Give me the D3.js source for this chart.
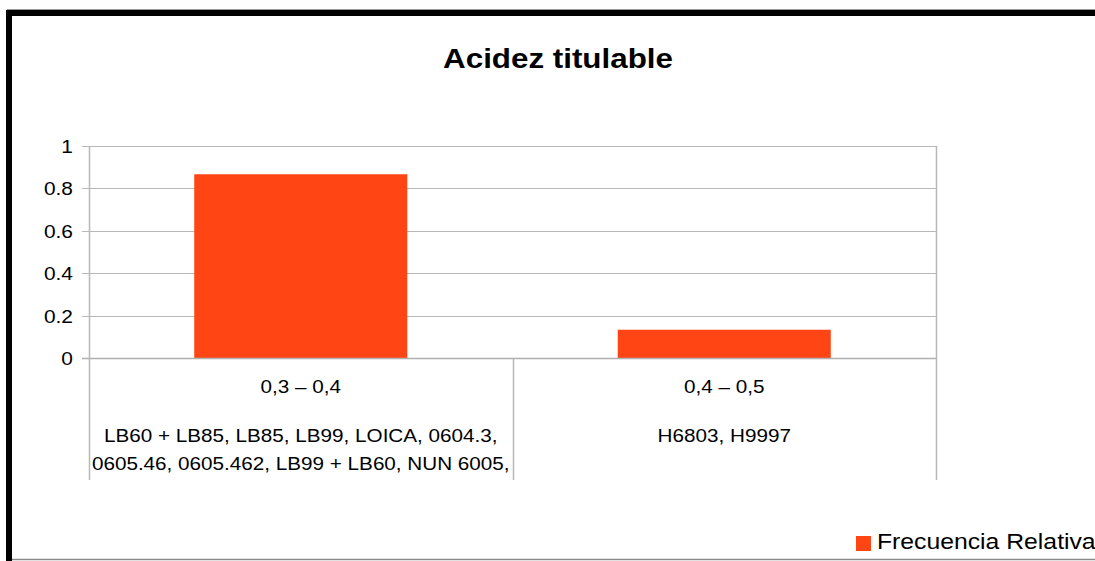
<!DOCTYPE html>
<html>
<head>
<meta charset="utf-8">
<script src="https://cdn.jsdelivr.net/npm/d3@7"></script>
<style>
  html, body { margin: 0; padding: 0; background: #fff; overflow: hidden; }
  svg { display: block; font-family: "Liberation Sans", Arial, sans-serif; }
</style>
</head>
<body>
<svg id="chart" width="1095" height="561"></svg>
<script>
// Chart data
const title = "Acidez titulable";
const seriesName = "Frecuencia Relativa";
const categories = ["0,3 – 0,4", "0,4 – 0,5"];
const categoryMembers = [
  ["LB60 + LB85, LB85, LB99, LOICA, 0604.3,", "0605.46, 0605.462, LB99 + LB60, NUN 6005,"],
  ["H6803, H9997"]
];
const values = [13 / 15, 2 / 15];
const yTicks = [0, 0.2, 0.4, 0.6, 0.8, 1];

const svg = d3.select("#chart");
const W = 1095, H = 561;
const barColor = "#ff4513";
const gridColor = "#b8b8b8";
const sx = 1.1; // horizontal stretch applied to text

// Frame
svg.append("rect").attr("x", 0).attr("y", 0).attr("width", W).attr("height", H).attr("fill", "#fff");
svg.append("line").attr("x1", 7).attr("x2", W).attr("y1", 9.5).attr("y2", 9.5)
  .attr("stroke", "#9a9a9a").attr("stroke-width", 1);
svg.append("rect").attr("x", 6).attr("y", 10).attr("width", W).attr("height", 6).attr("fill", "#000");
svg.append("rect").attr("x", 6).attr("y", 10).attr("width", 6).attr("height", H).attr("fill", "#000");
svg.append("line").attr("x1", 12).attr("x2", W).attr("y1", 559.5).attr("y2", 559.5)
  .attr("stroke", "#8a8a8a").attr("stroke-width", 1.5);

function stretchedText(g, x, y, txt) {
  return g.append("text")
    .attr("transform", `translate(${x},${y}) scale(${sx},1)`)
    .text(txt);
}

// Title
stretchedText(svg, 558, 68, title)
  .attr("text-anchor", "middle").attr("font-weight", "bold").attr("font-size", 28.5).attr("fill", "#000");

// Plot area
const plotLeft = 89, plotRight = 936, plotTop = 146, plotBottom = 358, axisBottom = 480;

const x = d3.scaleBand().domain(categories).range([plotLeft, plotRight]).padding(0);
const y = d3.scaleLinear().domain([0, 1]).range([plotBottom, plotTop]);

// Horizontal grid lines with left tick stubs
svg.append("g").selectAll("line").data(yTicks).join("line")
  .attr("x1", plotLeft - 7).attr("x2", plotRight)
  .attr("y1", d => Math.round(y(d)) + 0.5).attr("y2", d => Math.round(y(d)) + 0.5)
  .attr("stroke", gridColor).attr("stroke-width", 1);

// Tick labels
const tickG = svg.append("g").attr("font-size", 19).attr("fill", "#000");
yTicks.forEach(t => {
  stretchedText(tickG, plotLeft - 16, y(t) + 7, d3.format("")(t)).attr("text-anchor", "end");
});

// Bars
const barW = x.bandwidth() * 0.503;
svg.append("g").selectAll("rect").data(values).join("rect")
  .attr("x", (d, i) => x(categories[i]) + x.bandwidth() / 2 - barW / 2)
  .attr("width", barW)
  .attr("y", d => y(d))
  .attr("height", d => y(0) - y(d))
  .attr("fill", barColor);

// Vertical axis lines and category separators
const vlines = [
  { xv: plotLeft, y1: plotTop },
  { xv: x(categories[1]), y1: plotBottom },
  { xv: plotRight, y1: plotTop }
];
svg.append("g").selectAll("line").data(vlines).join("line")
  .attr("x1", d => Math.round(d.xv) + 0.5).attr("x2", d => Math.round(d.xv) + 0.5)
  .attr("y1", d => d.y1).attr("y2", axisBottom)
  .attr("stroke", gridColor).attr("stroke-width", 1.5);

// Baseline (zero) redrawn slightly stronger
svg.append("line").attr("x1", plotLeft - 7).attr("x2", plotRight)
  .attr("y1", Math.round(y(0)) + 0.5).attr("y2", Math.round(y(0)) + 0.5)
  .attr("stroke", "#b0b0b0").attr("stroke-width", 1.5);

// Category labels (two levels)
const catG = svg.append("g").attr("font-size", 18.8).attr("fill", "#000").attr("text-anchor", "middle");
categories.forEach((c, i) => {
  const cx = x(c) + x.bandwidth() / 2;
  stretchedText(catG, cx, 393, c);
  categoryMembers[i].forEach((line, j) => {
    stretchedText(catG, cx, 442 + j * 28, line);
  });
});

// Legend
const lg = svg.append("g");
lg.append("rect").attr("x", 856).attr("y", 536).attr("width", 15).attr("height", 15).attr("fill", barColor);
stretchedText(lg, 877, 549, seriesName).attr("font-size", 22.5).attr("fill", "#000");
</script>
</body>
</html>
